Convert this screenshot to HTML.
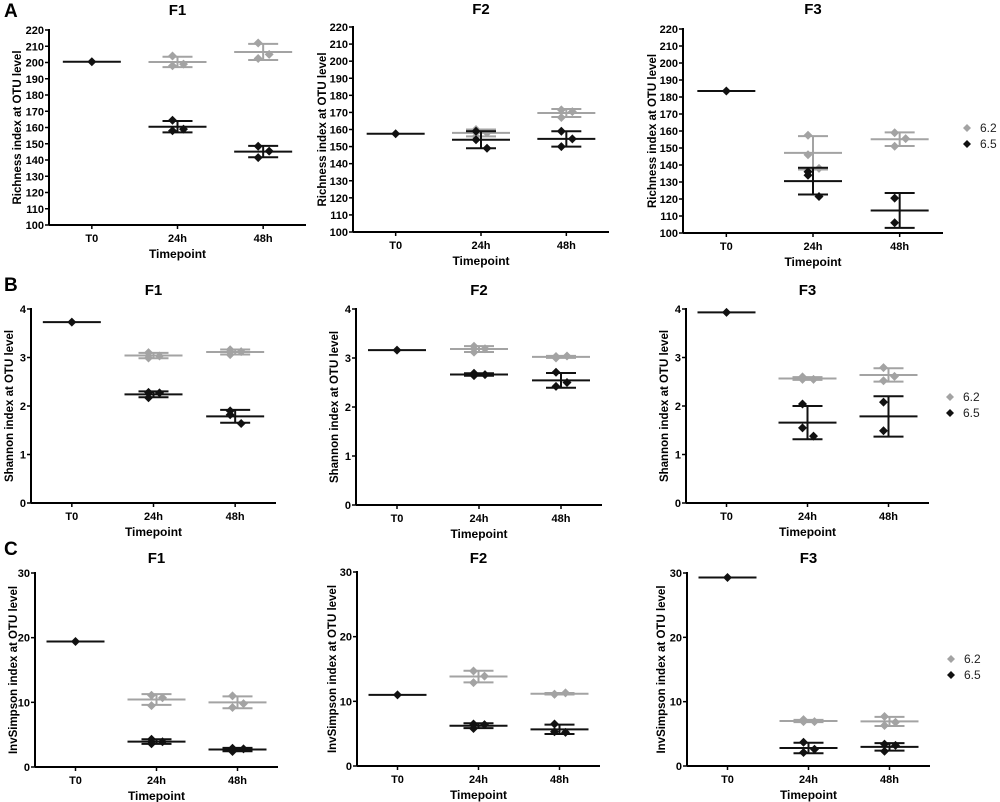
<!DOCTYPE html>
<html><head><meta charset="utf-8"><style>
html,body{margin:0;padding:0;background:#fff;}
svg{display:block;font-family:"Liberation Sans",Arial,sans-serif;}
</style></head><body>
<svg id="fig" width="1000" height="802" viewBox="0 0 1000 802" xmlns="http://www.w3.org/2000/svg"></svg>
<script>
const categories = ["T0","24h","48h"];
// Richness (A)
const aF1_62 = [null,[204,198,199],[212,202.5,205]];
const aF1_65 = [[200.5],[164.5,158,159],[148.5,141.5,145.5]];
const aF2_62 = [null,[160,156,158],[171.5,167,170.5]];
const aF2_65 = [[157.5],[159,154,149],[159,150,154.5]];
const aF3_62 = [null,[157.5,146,138],[159,151,155.5]];
const aF3_65 = [[183.5],[136,134,121.5],[120.5,106]];
// Shannon (B)
const bF1_62 = [null,[3.1,2.99,3.03],[3.16,3.06,3.12]];
const bF1_65 = [[3.73],[2.28,2.17,2.27],[1.9,1.82,1.64]];
const bF2_62 = [null,[3.24,3.12,3.19],[3.03,3.0,3.04]];
const bF2_65 = [[3.16],[2.69,2.64,2.66],[2.71,2.42,2.5]];
const bF3_62 = [null,[2.6,2.55,2.55],[2.79,2.52,2.61]];
const bF3_65 = [[3.93],[2.04,1.55,1.38],[2.08,1.49]];
// InvSimpson (C)
const cF1_62 = [null,[11.1,9.5,10.7],[11.0,9.2,9.8]];
const cF1_65 = [[19.4],[4.3,3.6,3.9],[2.9,2.4,2.8]];
const cF2_62 = [null,[14.7,12.9,13.9],[11.1,11.1,11.3]];
const cF2_65 = [[11.0],[6.5,5.8,6.4],[6.5,5.3,5.2]];
const cF3_62 = [null,[7.2,6.9,6.9],[7.7,6.3,6.8]];
const cF3_65 = [[29.3],[3.7,2.1,2.6],[3.4,2.3,3.2]];
const richTicks = [100,110,120,130,140,150,160,170,180,190,200,210,220];
const shanTicks = [0,1,2,3,4];
const invTicks = [0,10,20,30];
const legendLabels = ["6.2","6.5"];

const NS="http://www.w3.org/2000/svg";
const svg=document.getElementById('fig');
function el(tag,attrs,parent,text){const e=document.createElementNS(NS,tag);for(const k in attrs)e.setAttribute(k,attrs[k]);if(text!==undefined)e.textContent=text;(parent||svg).appendChild(e);return e;}
const GRAY="#a3a3a3",BLACK="#111";

function panel(cfg){
  const g=el('g',{});
  
  
  const {L,R,T,B,min,max,ticks}=cfg;
  const y=v=>B-(v-min)/(max-min)*(B-T);
  const bw=(R-L)/categories.length;
  const x=i=>L+(i+0.5)*bw;
  let a=el('line',{x1:L,y1:T-1,x2:L,y2:B,stroke:'#000','stroke-width':2},g);
  
  a=el('line',{x1:L,y1:B,x2:R,y2:B,stroke:'#000','stroke-width':2},g);
  
  ticks.forEach(t=>{
    el('line',{x1:L-4,y1:y(t),x2:L,y2:y(t),stroke:'#000','stroke-width':1.5},g);
    const tl=el('text',{x:L-5,y:y(t)+4,'text-anchor':'end','font-size':11,'font-weight':'bold'},g,String(t));
    
  });
  categories.forEach((c,i)=>{
    el('line',{x1:x(i),y1:B,x2:x(i),y2:B+4,stroke:'#000','stroke-width':1.5},g);
    const tl=el('text',{x:x(i),y:B+17,'text-anchor':'middle','font-size':11,'font-weight':'bold'},g,c);
    
  });
  let t=el('text',{x:(L+R)/2,y:B+33,'text-anchor':'middle','font-size':12,'font-weight':'bold'},g,'Timepoint');
  
  t=el('text',{x:(L+R)/2,y:cfg.titleY,'text-anchor':'middle','font-size':15,'font-weight':'bold'},g,cfg.title);
  
  const cy=(T+B)/2;
  t=el('text',{x:cfg.ylx,y:cy,'text-anchor':'middle','font-size':11.5,'font-weight':'bold',transform:`rotate(-90 ${cfg.ylx} ${cy})`},g,cfg.ylabel);
  
  const offs=[-5,-5,6];
  function series(data,color,sname){
    data.forEach((pts,i)=>{
      if(!pts)return;
      const n=pts.length, m=pts.reduce((s,v)=>s+v,0)/n;
      const cx=x(i);
      const sg=el('g',{},g);
      
      
      if(n>1){
        const sd=Math.sqrt(pts.reduce((s,v)=>s+(v-m)*(v-m),0)/(n-1));
        el('line',{x1:cx,y1:y(m+sd),x2:cx,y2:y(m-sd),stroke:color,'stroke-width':2},sg);
        el('line',{x1:cx-15,y1:y(m+sd),x2:cx+15,y2:y(m+sd),stroke:color,'stroke-width':2},sg);
        el('line',{x1:cx-15,y1:y(m-sd),x2:cx+15,y2:y(m-sd),stroke:color,'stroke-width':2},sg);
      }
      el('line',{x1:cx-29,y1:y(m),x2:cx+29,y2:y(m),stroke:color,'stroke-width':2},sg);
      pts.forEach((v,j)=>{
        const px=n===1?cx:cx+offs[j], py=y(v);
        const d=el('path',{d:`M${px} ${py-4.5}L${px+4.5} ${py}L${px} ${py+4.5}L${px-4.5} ${py}Z`,fill:color},sg);
        
      });
    });
  }
  series(cfg.s62,GRAY,'series-6.2');
  series(cfg.s65,BLACK,'series-6.5');
  if(cfg.legendY){
    [GRAY,BLACK].forEach((c,k)=>{
      const ly=cfg.legendY+k*16, lx=cfg.legendX;
      const lg=el('g',{},svg);
      
      
      el('path',{d:`M${lx} ${ly-4}L${lx+4} ${ly}L${lx} ${ly+4}L${lx-4} ${ly}Z`,fill:c},lg);
      el('text',{x:lx+13,y:ly+4,'font-size':12,fill:'#222'},lg,legendLabels[k]);
    });
  }
}
const RL='Richness index at OTU level',SL='Shannon index at OTU level',IL='InvSimpson index at OTU level';
panel({name:'panel-a-f1',title:'F1',titleY:15,L:49,R:306,T:30,B:225,min:100,max:220,ticks:richTicks,ylx:21,ylabel:RL,s62:aF1_62,s65:aF1_65});
panel({name:'panel-a-f2',title:'F2',titleY:14,L:353,R:609,T:27,B:232,min:100,max:220,ticks:richTicks,ylx:326,ylabel:RL,s62:aF2_62,s65:aF2_65});
panel({name:'panel-a-f3',title:'F3',titleY:14,L:683,R:943,T:29,B:233,min:100,max:220,ticks:richTicks,ylx:656,ylabel:RL,s62:aF3_62,s65:aF3_65,legendY:128,legendX:967});
panel({name:'panel-b-f1',title:'F1',titleY:295,L:31,R:276,T:309,B:503,min:0,max:4,ticks:shanTicks,ylx:13,ylabel:SL,s62:bF1_62,s65:bF1_65});
panel({name:'panel-b-f2',title:'F2',titleY:295,L:356,R:602,T:309,B:505,min:0,max:4,ticks:shanTicks,ylx:338,ylabel:SL,s62:bF2_62,s65:bF2_65});
panel({name:'panel-b-f3',title:'F3',titleY:295,L:686,R:929,T:309,B:503,min:0,max:4,ticks:shanTicks,ylx:668,ylabel:SL,s62:bF3_62,s65:bF3_65,legendY:397,legendX:950});
panel({name:'panel-c-f1',title:'F1',titleY:563,L:35,R:278,T:573,B:767,min:0,max:30,ticks:invTicks,ylx:17,ylabel:IL,s62:cF1_62,s65:cF1_65});
panel({name:'panel-c-f2',title:'F2',titleY:563,L:357,R:600,T:572,B:766,min:0,max:30,ticks:invTicks,ylx:336,ylabel:IL,s62:cF2_62,s65:cF2_65});
panel({name:'panel-c-f3',title:'F3',titleY:563,L:687,R:930,T:573,B:766,min:0,max:30,ticks:invTicks,ylx:665,ylabel:IL,s62:cF3_62,s65:cF3_65,legendY:659,legendX:951});
[['A',17],['B',291],['C',555]].forEach(([l,yy])=>{
  const t=el('text',{x:4,y:yy,'font-size':19,'font-weight':'bold'},svg,l);
  
  
});
</script>
</body></html>
